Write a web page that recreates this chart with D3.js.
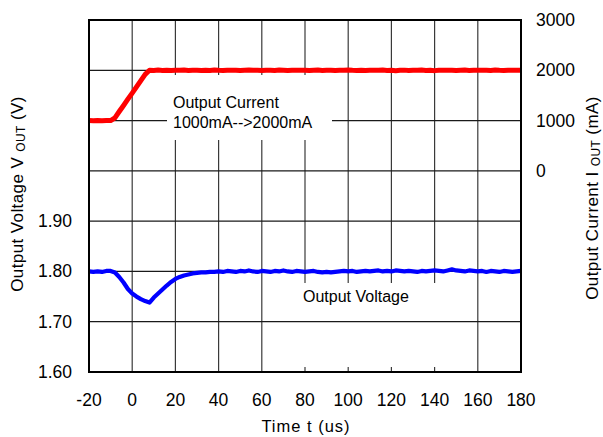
<!DOCTYPE html>
<html>
<head>
<meta charset="utf-8">
<script src="https://cdn.jsdelivr.net/npm/d3@7"></script>
<style>
  body { margin: 0; background: #fff; }
  text { font-family: "Liberation Sans", Arial, sans-serif; fill: #000; }
</style>
</head>
<body>
<div id="chart"></div>
<script>
// time axis (us), one sample every 2 us
const timeUs = d3.range(-20, 181, 2);

// output current (mA)
const currentMa = [
  1000, 996, 1002, 998, 1003, 1000, 1055, 1180, 1300, 1425,
  1545, 1670, 1795, 1920, 2000, 1996, 2004, 1998, 2003, 1997,
  2002, 1999, 2004, 1996, 2001, 2003, 1998, 2002, 1997, 2004,
  2000, 1998, 2003, 1999, 2002, 1996, 2001, 2004, 1999, 2002,
  1997, 2003, 2000, 1998, 2004, 2001, 1997, 2002, 1999, 2003,
  2000, 1996, 2002, 2004, 1998, 2001, 2003, 1997, 2002, 1999,
  2004, 2000, 1998, 2003, 1996, 2001, 2002, 1999, 2004, 1998,
  2002, 1992, 2001, 2003, 1995, 2002, 1999, 2004, 1997, 2001,
  1993, 2002, 1999, 2003, 2000, 1997, 2002, 2004, 1998, 2001,
  2003, 1999, 2002, 1997, 2004, 2000, 1998, 2003, 2001, 1999,
  2002
];

// output voltage (V)
const voltageV = [
  1.800, 1.799, 1.800, 1.799, 1.801, 1.801, 1.798, 1.789, 1.778, 1.765,
  1.756, 1.750, 1.745, 1.741, 1.738, 1.748, 1.756, 1.764, 1.772, 1.779,
  1.785, 1.789, 1.792, 1.794, 1.796, 1.797, 1.798, 1.798, 1.799, 1.799,
  1.800, 1.799, 1.801, 1.800, 1.799, 1.801, 1.800, 1.802, 1.800, 1.799,
  1.801, 1.800, 1.799, 1.801, 1.800, 1.802, 1.800, 1.799, 1.801, 1.800,
  1.799, 1.800, 1.801, 1.799, 1.798, 1.799, 1.798, 1.799, 1.800, 1.801,
  1.800, 1.801, 1.799, 1.800, 1.801, 1.800, 1.801, 1.802, 1.800, 1.801,
  1.800, 1.802, 1.801, 1.800, 1.801, 1.800, 1.799, 1.801, 1.800, 1.801,
  1.802, 1.801, 1.800, 1.802, 1.804, 1.802, 1.801, 1.800, 1.802, 1.801,
  1.800, 1.801, 1.799, 1.801, 1.800, 1.799, 1.801, 1.800, 1.799, 1.800,
  1.801
];

const xTicks = [-20, 0, 20, 40, 60, 80, 100, 120, 140, 160, 180];
const vGrid = [1.6, 1.7, 1.8, 1.9, 2.0, 2.1, 2.2, 2.3];
const vTickLabels = [1.6, 1.7, 1.8, 1.9];
const iTickLabels = [0, 1000, 2000, 3000];

const margin = { top: 20, left: 89 };
const width = 432;
const height = 352;

const x = d3.scaleLinear().domain([-20, 180]).range([0, width]);
const yV = d3.scaleLinear().domain([1.6, 2.3]).range([height, 0]);
const yI = d3.scaleLinear().domain([-4000, 3000]).range([height, 0]);

const svg = d3
  .select("#chart")
  .append("svg")
  .attr("width", 603)
  .attr("height", 437);

svg.append("rect").attr("width", 603).attr("height", 437).attr("fill", "#fff");

const g = svg.append("g").attr("transform", `translate(${margin.left}, ${margin.top})`);

// vertical grid
g.selectAll(".vgrid")
  .data(xTicks)
  .enter()
  .append("line")
  .attr("x1", d => x(d))
  .attr("x2", d => x(d))
  .attr("y1", 0)
  .attr("y2", height)
  .attr("stroke", "#3a3a3a")
  .attr("stroke-width", 1.2);

// white box behind "Output Voltage" (cuts the vertical grid only)
g.append("rect")
  .attr("x", 290 - margin.left)
  .attr("y", 283 - margin.top)
  .attr("width", 160)
  .attr("height", 84)
  .attr("fill", "#fff");

// horizontal grid
g.selectAll(".hgrid")
  .data(vGrid)
  .enter()
  .append("line")
  .attr("x1", 0)
  .attr("x2", width)
  .attr("y1", d => yV(d))
  .attr("y2", d => yV(d))
  .attr("stroke", "#1a1a1a")
  .attr("stroke-width", 1.2);

// white box behind current label
g.append("rect")
  .attr("x", 167 - margin.left)
  .attr("y", 75 - margin.top)
  .attr("width", 165)
  .attr("height", 65)
  .attr("fill", "#fff");

// traces
const lineI = d3.line().x((d, i) => x(timeUs[i])).y(d => yI(d));
const lineV = d3.line().x((d, i) => x(timeUs[i])).y(d => yV(d));

g.append("path")
  .datum(currentMa)
  .attr("d", lineI)
  .attr("fill", "none")
  .attr("stroke", "#ff0000")
  .attr("stroke-width", 5)
  .attr("stroke-linejoin", "round");

g.append("path")
  .datum(voltageV)
  .attr("d", lineV)
  .attr("fill", "none")
  .attr("stroke", "#0000ff")
  .attr("stroke-width", 4.2)
  .attr("stroke-linejoin", "round");

// frame
g.append("rect")
  .attr("width", width)
  .attr("height", height)
  .attr("fill", "none")
  .attr("stroke", "#000")
  .attr("stroke-width", 2);

// tick labels
g.selectAll(".xl")
  .data(xTicks)
  .enter()
  .append("text")
  .attr("x", d => x(d))
  .attr("y", height + 34)
  .attr("text-anchor", "middle")
  .style("font-size", "17.5px")
  .text(d => d);

g.selectAll(".vl")
  .data(vTickLabels)
  .enter()
  .append("text")
  .attr("x", -17)
  .attr("y", d => yV(d) + 6)
  .attr("text-anchor", "end")
  .style("font-size", "17.5px")
  .text(d => d.toFixed(2));

g.selectAll(".il")
  .data(iTickLabels)
  .enter()
  .append("text")
  .attr("x", width + 15)
  .attr("y", d => yI(d) + 6)
  .style("font-size", "17.5px")
  .text(d => d);

// axis titles
svg.append("text")
  .attr("x", 306)
  .attr("y", 432)
  .attr("text-anchor", "middle")
  .style("font-size", "16.5px")
  .style("letter-spacing", "1px")
  .text("Time t (us)");

const leftTitle = svg.append("text")
  .attr("transform", "translate(23, 194) rotate(-90)")
  .attr("text-anchor", "middle")
  .style("font-size", "17px")
  .style("letter-spacing", "0.4px");
leftTitle.append("tspan").text("Output Voltage V ");
leftTitle.append("tspan").attr("dy", 2).style("font-size", "12px").text("OUT");
leftTitle.append("tspan").attr("dy", -2).text(" (V)");

const rightTitle = svg.append("text")
  .attr("transform", "translate(598, 198) rotate(-90)")
  .attr("text-anchor", "middle")
  .style("font-size", "17px")
  .style("letter-spacing", "0.4px");
rightTitle.append("tspan").text("Output Current I ");
rightTitle.append("tspan").attr("dy", 2).style("font-size", "12px").text("OUT");
rightTitle.append("tspan").attr("dy", -2).text(" (mA)");

// in-plot labels
svg.append("text")
  .attr("x", 173)
  .attr("y", 108)
  .style("font-size", "16px")
  .text("Output Current");
svg.append("text")
  .attr("x", 173)
  .attr("y", 128)
  .style("font-size", "16px")
  .text("1000mA-->2000mA");
svg.append("text")
  .attr("x", 303)
  .attr("y", 302)
  .style("font-size", "16px")
  .text("Output Voltage");
</script>
</body>
</html>
